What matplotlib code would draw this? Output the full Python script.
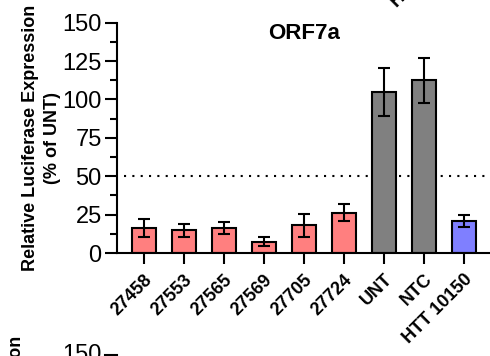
import matplotlib
matplotlib.use("Agg")
import matplotlib.pyplot as plt
from matplotlib.ticker import MultipleLocator

plt.rcParams['font.family'] = ['Liberation Sans', 'DejaVu Sans']

categories = ["27458", "27553", "27565", "27569", "27705", "27724", "UNT", "NTC", "HTT 10150"]
means = [16.5, 14.8, 16.3, 7.4, 18.0, 26.3, 105.0, 112.4, 20.7]
errors = [5.9, 4.2, 3.9, 3.0, 7.4, 5.6, 15.7, 14.8, 4.0]
colors = ["#FF7F7F"] * 6 + ["#808080", "#808080", "#7F7FFF"]
threshold = 50

W, H = 490, 356
fig = plt.figure(figsize=(W / 100, H / 100), dpi=100)
ax = fig.add_axes([117 / W, (H - 253) / H, 373 / W, (253 - 22.7) / H])

x = list(range(len(categories)))
ax.bar(x, means, width=0.6, color=colors, edgecolor="black", linewidth=1.5, zorder=2)
ax.errorbar(x, means, yerr=errors, fmt="none", ecolor="black", elinewidth=1.5,
            capsize=4.5, capthick=1.5, zorder=3)
ax.axhline(threshold, xmin=0.02, color="black", linestyle=(0, (1, 3)), linewidth=1.5,
           zorder=1)

ax.set_xlim(-0.675, 8.65)
ax.set_ylim(0, 150)
ax.yaxis.set_major_locator(MultipleLocator(25))
ax.yaxis.set_minor_locator(MultipleLocator(12.5))
ax.set_xticks(x)
ax.set_xticklabels(categories, rotation=45, ha="right", rotation_mode="anchor",
                   fontsize=13, fontweight="bold")
ax.tick_params(axis="y", which="major", length=9, width=1.5, labelsize=17, pad=2)
ax.tick_params(axis="y", which="minor", length=5, width=1.5)
ax.tick_params(axis="x", which="major", length=8, width=1.5, pad=5)

for side in ("top", "right"):
    ax.spines[side].set_visible(False)
for side in ("left", "bottom"):
    ax.spines[side].set_linewidth(1.5)

ax.text(4, 143, "ORF7a", ha="center", va="center", fontsize=16, fontweight="bold")
ax.set_ylabel("Relative Luciferase Expression\n(% of UNT)", fontsize=13,
              fontweight="bold", labelpad=1, linespacing=1.35)

# neighbouring panels of the multi-panel figure
fig.text(394 / W, (H - 5) / H, "HTT 10150", rotation=45, ha="left", va="center",
         rotation_mode="anchor", fontsize=13, fontweight="bold")
fig.text(17 / W, (H - 336) / H, "Relative Luciferase Expression", rotation=90,
         ha="center", va="top", fontsize=13, fontweight="bold")
fig.text(102 / W, (H - 355) / H, "150", ha="right", va="center", fontsize=17)
fig.add_artist(plt.Line2D([105 / W, 117 / W], [(H - 355) / H] * 2, color="black",
                          linewidth=1.5))

fig.savefig("out.png", dpi=100)
